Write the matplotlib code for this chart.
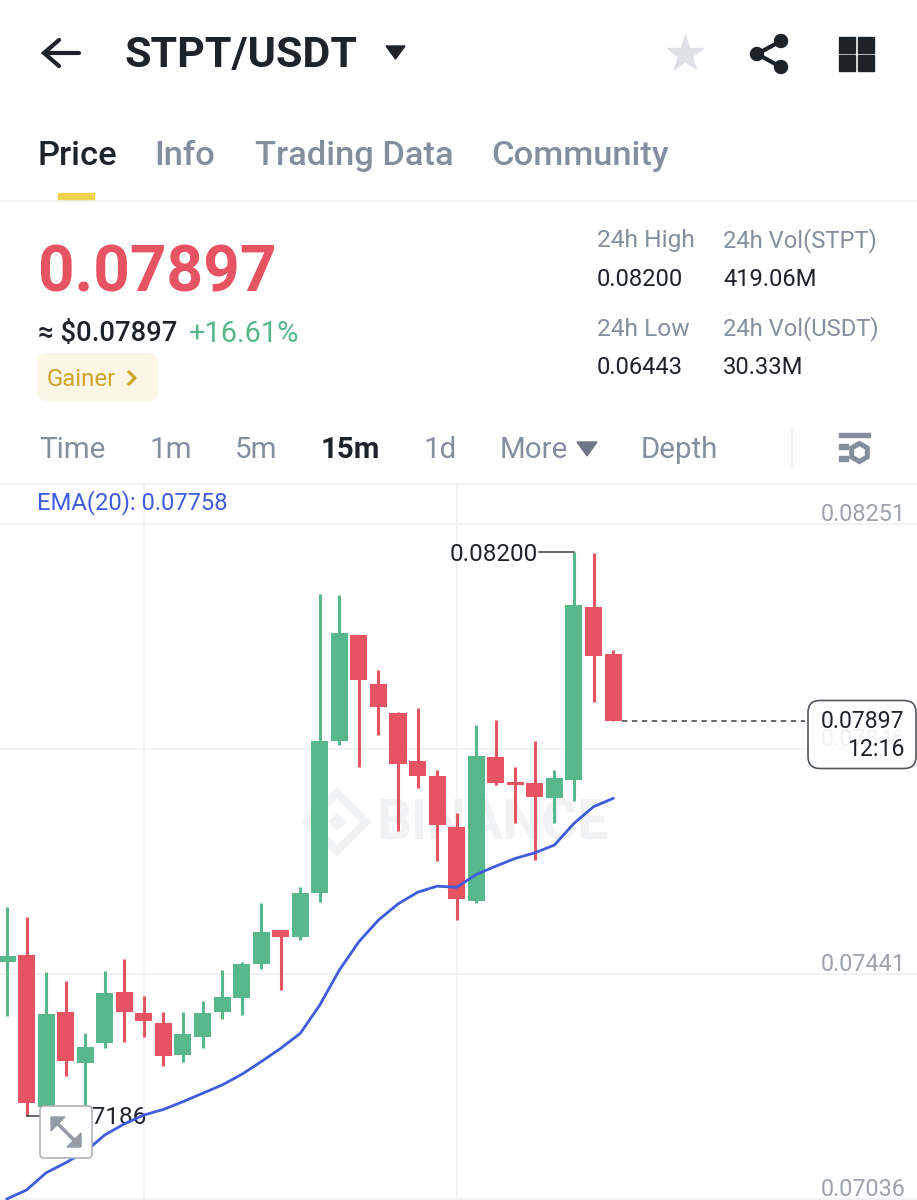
"""STPT/USDT 15m candlestick screen, redrawn with matplotlib."""

import matplotlib
matplotlib.use("Agg")
import matplotlib.pyplot as plt
import numpy as np
from matplotlib.patches import FancyBboxPatch, Polygon, Rectangle, Circle

# ---------------------------------------------------------------------------
# Data
# ---------------------------------------------------------------------------

opens = [0.07463, 0.07475, 0.07202, 0.07372, 0.07281, 0.07316, 0.07408, 0.07371,
         0.07352, 0.07295, 0.07328, 0.07372, 0.07397, 0.07459, 0.07520, 0.07507,
         0.07587, 0.07860, 0.08051, 0.07963, 0.07910, 0.07825, 0.07797, 0.07706,
         0.07572, 0.07832, 0.07787, 0.07784, 0.07757, 0.07790, 0.08101, 0.08017]
closes = [0.07473, 0.07209, 0.07369, 0.07284, 0.07309, 0.07406, 0.07372, 0.07357,
          0.07294, 0.07332, 0.07370, 0.07399, 0.07458, 0.07517, 0.07507, 0.07586,
          0.07860, 0.08054, 0.07970, 0.07922, 0.07819, 0.07798, 0.07709, 0.07575,
          0.07833, 0.07784, 0.07781, 0.07760, 0.07793, 0.08105, 0.08013, 0.07897]
highs = [0.07562, 0.07544, 0.07444, 0.07429, 0.07335, 0.07446, 0.07468, 0.07402,
         0.07373, 0.07372, 0.07393, 0.07448, 0.07463, 0.07568, 0.07520, 0.07598,
         0.08125, 0.08124, 0.08051, 0.07988, 0.07912, 0.07920, 0.07809, 0.07731,
         0.07889, 0.07898, 0.07813, 0.07861, 0.07809, 0.08200, 0.08199, 0.08025]
lows = [0.07365, 0.07186, 0.07187, 0.07258, 0.07205, 0.07308, 0.07318, 0.07327,
        0.07276, 0.07283, 0.07308, 0.07360, 0.07367, 0.07450, 0.07412, 0.07502,
        0.07570, 0.07854, 0.07814, 0.07871, 0.07698, 0.07775, 0.07644, 0.07538,
        0.07569, 0.07781, 0.07713, 0.07646, 0.07712, 0.07752, 0.07931, 0.07897]
ema20 = [0.07036, 0.07052, 0.07083, 0.07101, 0.07121, 0.07151, 0.07171, 0.07187,
         0.07197, 0.07211, 0.07226, 0.07241, 0.07260, 0.07283, 0.07307, 0.07334,
         0.07385, 0.07448, 0.07499, 0.07538, 0.07567, 0.07588, 0.07599, 0.07597,
         0.07620, 0.07635, 0.07649, 0.07659, 0.07673, 0.07712, 0.07742, 0.07757]

price_ticks = [0.08251, 0.07846, 0.07441, 0.07036]
time_grid = [7, 23]  # candle index of the vertical grid lines
last_price = 0.07897
day_high = 0.08200
day_low = 0.07186

intervals = ["Time", "1m", "5m", "15m", "1d", "More", "Depth"]
interval_x = [39, 150, 235, 321, 423, 500, 641]
tabs = ["Price", "Info", "Trading Data", "Community"]
tab_x = [37, 154, 255, 491]

# ---------------------------------------------------------------------------
# Styles
# ---------------------------------------------------------------------------

GREEN = "#58b88b"
RED = "#e65363"
BLUE = "#3f5cdc"
DARK = "#1e2329"
GREY = "#848e9c"
AXIS_GREY = "#9ea3ab"
LINE = "#eeeff1"
FONT = "Roboto"

plt.rcParams["font.family"] = [FONT, "DejaVu Sans"]

W, H = 917, 1200
fig = plt.figure(figsize=(W / 100, H / 100), dpi=100, facecolor="white")


def pixel_axes(zorder):
    ax = fig.add_axes([0, 0, 1, 1], zorder=zorder)
    ax.set_xlim(0, W)
    ax.set_ylim(H, 0)
    ax.axis("off")
    ax.patch.set_alpha(0)
    return ax


def label(ax, x, y, s, px, color=DARK, ha="left", weight="normal", **kw):
    # px is the em size in image pixels, +2 corrects Roboto's centre line
    return ax.text(x, y + 2, s, fontsize=px * 0.72, color=color, ha=ha, va="center",
                   fontweight=weight, **kw)


ui = pixel_axes(0)
top = pixel_axes(2)

# ---------------------------------------------------------------------------
# Header
# ---------------------------------------------------------------------------

ui.plot([44, 79], [53, 53], color=DARK, lw=3.0, solid_capstyle="round")
ui.plot([59, 44, 59], [40, 53, 66], color=DARK, lw=3.0, solid_capstyle="round",
        solid_joinstyle="miter")
label(ui, 125, 54, "STPT/USDT", 43, weight="bold")
ui.add_patch(Polygon([[386, 46], [405, 46], [395.5, 59]], closed=True, color=DARK))

ui.plot([685], [54], marker="*", ms=27, color="#dfe1e6", mec="#dfe1e6")
share = [(757, 54), (781, 41), (781, 67)]
ui.plot([share[1][0], share[0][0], share[2][0]], [share[1][1], share[0][1], share[2][1]],
        color=DARK, lw=3)
for cx, cy in share:
    ui.add_patch(Circle((cx, cy), 6.5, color=DARK))
for gx, gy in [(839, 37), (858, 37), (839, 55), (858, 55)]:
    ui.add_patch(Rectangle((gx, gy), 15.5, 16, color=DARK))

for name, x in zip(tabs, tab_x):
    label(ui, x, 154, name, 34.5, color=DARK if name == "Price" else GREY, weight="medium")
ui.plot([0, W], [200.5, 200.5], color=LINE, lw=1.2)
ui.add_patch(Rectangle((58, 193), 36, 7, color="#f0d14e"))

# ---------------------------------------------------------------------------
# Price block
# ---------------------------------------------------------------------------

label(ui, 38, 272, f"{last_price:.5f}", 64, color=RED, weight="bold")
label(ui, 38, 332, "≈ $0.07897", 27.5, weight="medium")
label(ui, 189, 332, "+16.61%", 29, color=GREEN)
ui.add_patch(FancyBboxPatch((37, 353), 121, 48, boxstyle="round,pad=0,rounding_size=11",
                            fc="#fbf6e6", ec="none"))
label(ui, 47, 377, "Gainer", 24, color="#d0a429")
ui.plot([129, 135, 129], [372, 378, 384], color="#d0a429", lw=2.2)

label(ui, 597, 239, "24h High", 24.5, color=GREY)
label(ui, 723, 239, "24h Vol(STPT)", 23.8, color=GREY)
label(ui, 597, 277, "0.08200", 23.8)
label(ui, 723, 277, "419.06M", 23.8)
label(ui, 597, 327, "24h Low", 24.5, color=GREY)
label(ui, 723, 327, "24h Vol(USDT)", 23.8, color=GREY)
label(ui, 597, 365, "0.06443", 23.8)
label(ui, 723, 365, "30.33M", 23.8)

# ---------------------------------------------------------------------------
# Interval bar
# ---------------------------------------------------------------------------

for name, x in zip(intervals, interval_x):
    active = name == "15m"
    label(ui, x, 448, name, 29.5, color=DARK if active else GREY,
          weight="bold" if active else "normal")
ui.add_patch(Polygon([[577, 442], [597, 442], [587, 456]], closed=True, color="#6f7785"))
ui.plot([791.5, 791.5], [428, 467], color=LINE, lw=1.2)
# settings glyph
ui.add_patch(Rectangle((839, 433), 31, 4, color=GREY))
ui.add_patch(Rectangle((839, 444), 9, 5, color=GREY))
ui.add_patch(Rectangle((839, 456), 9, 5, color=GREY))
ui.plot([859], [452], marker="h", ms=13, mfc="white", mec=GREY, mew=3.6)
ui.plot([0, W], [484, 484], color=LINE, lw=1.2)

# watermark sits below the candles
wm = "#f1f2f3"
ui.add_patch(Polygon([[337, 793], [366, 822], [337, 851], [308, 822]], closed=True,
                     fc="none", ec=wm, lw=6))
ui.add_patch(Polygon([[337, 813], [346, 822], [337, 831], [328, 822]], closed=True,
                     fc=wm, ec="none"))
label(ui, 376, 823, "BINANCE", 55, color=wm, weight="bold")

# ---------------------------------------------------------------------------
# Candles
# ---------------------------------------------------------------------------

# price scale: 225 px per 0.00405, x: 19.55 px per candle, first candle at x=7
chart = fig.add_axes([0, 0, 1, (H - 484) / H], zorder=1)
chart.patch.set_alpha(0)
chart.axis("off")
chart.set_xlim(-7 / 19.55, (W - 7) / 19.55)
chart.set_ylim(0.07034, 0.08323)

idx = np.arange(len(opens))
o, c, hi, lo = map(np.array, (opens, closes, highs, lows))
colors = [GREEN if b >= a else RED for a, b in zip(o, c)]

for p in price_ticks:
    chart.axhline(p, color=LINE, lw=1.1, zorder=1)
for t in time_grid:
    chart.axvline(t, color=LINE, lw=1.1, zorder=1)

chart.vlines(idx, lo, hi, colors=colors, lw=2.2, zorder=3)
chart.bar(idx, np.abs(c - o), bottom=np.minimum(o, c), width=0.87, color=colors, zorder=4)
chart.plot(idx, ema20, color=BLUE, lw=2.0, zorder=6, clip_on=False)

for p in price_ticks:
    chart.annotate(f"{p:.5f}", xy=(1, p), xycoords=("axes fraction", "data"),
                   xytext=(-8, 7), textcoords="offset points", ha="right", va="center",
                   fontsize=16.8, color=AXIS_GREY, zorder=8)

# high / low callouts
chart.plot([27.2, 29], [day_high, day_high], color="#3a3f45", lw=1.1, zorder=5)
chart.annotate(f"{day_high:.5f}", xy=(27, day_high), xytext=(2.5, -1.5),
               textcoords="offset points", ha="right", va="center", fontsize=17.5,
               color=DARK, zorder=5)
chart.plot([1, 2], [day_low, day_low], color="#3a3f45", lw=1.1, zorder=5)
chart.annotate(f"{day_low:.5f}", xy=(2.66, day_low), xytext=(0, -1.5),
               textcoords="offset points", ha="left", va="center",
               fontsize=17.5, color=DARK, zorder=5)

# last price marker
chart.plot([31.45, 40.8], [last_price, last_price], color="#3a3f45", lw=1.1,
           ls=(0, (3.5, 3)), zorder=5)

# ---------------------------------------------------------------------------
# Overlays
# ---------------------------------------------------------------------------

label(top, 37, 501, "EMA(20): 0.07758", 23.8, color=BLUE)

top.add_patch(FancyBboxPatch((808, 700.5), 108, 68, boxstyle="round,pad=0,rounding_size=12",
                             fc=(1, 1, 1, 0.85), ec="#50555c", lw=1.2))
label(top, 904, 720, f"{last_price:.5f}", 23, ha="right")
label(top, 904, 747, "12:16", 23, ha="right")

top.add_patch(FancyBboxPatch((40, 1106), 52, 52, boxstyle="round,pad=0,rounding_size=4",
                             fc="white", ec="#a9adb3", lw=1.1))
top.plot([56, 76], [1122, 1142], color="#969ca6", lw=2.6)
top.add_patch(Polygon([[51, 1117], [65, 1117], [51, 1131]], closed=True, color="#969ca6"))
top.add_patch(Polygon([[81, 1147], [67, 1147], [81, 1133]], closed=True, color="#969ca6"))

fig.savefig("out.png", dpi=100, facecolor="white")
